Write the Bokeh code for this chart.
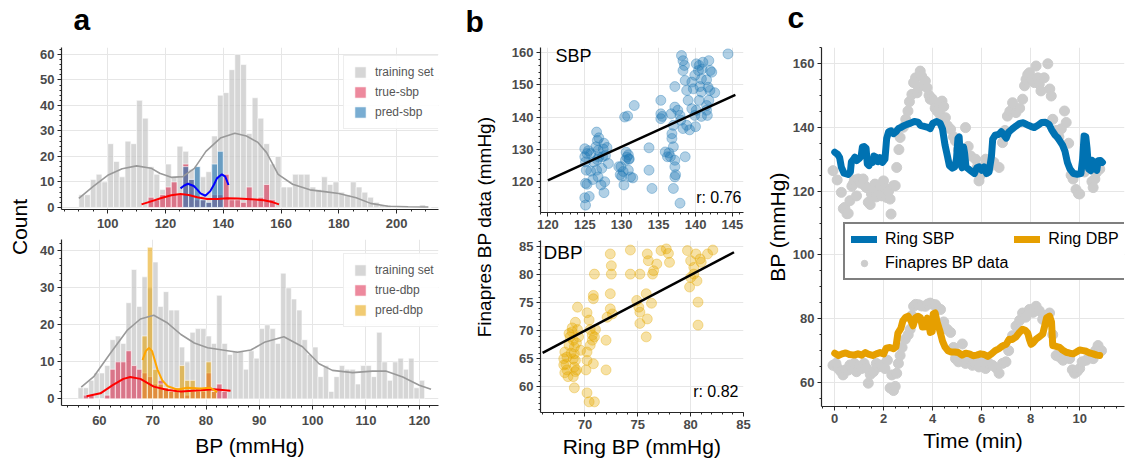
import math
from bokeh.plotting import figure
from bokeh.layouts import row, column
from bokeh.models import Range1d, SingleIntervalTicker, FixedTicker, Legend, LegendItem, Label
from bokeh.embed import file_html
from bokeh.resources import INLINE

FONT = "Liberation Sans"
TICK_GRAY = "#4a4a4a"
AXIS_DARK = "#262626"
GRID = "#e6e6e6"

# ---------------- panel a: SBP histograms ----------------
sbp_bin_w = 2
sbp_train_left = list(range(90, 212, 2))
sbp_train_counts = [5, 5, 11, 13, 10, 25, 18, 12, 26, 25,
                    42, 35, 16, 13, 7, 17, 12, 24, 22, 15,
                    16, 12, 14, 28, 44, 45, 54, 60, 56, 29,
                    43, 35, 25, 17, 20, 8, 8, 13, 13, 13,
                    8, 7, 12, 9, 10, 6, 5, 10, 8, 6,
                    4, 2, 1, 1, 0, 0, 0, 0, 0, 1, 0]
true_sbp_left = list(range(114, 158, 2))
true_sbp_counts = [4, 3, 5, 8, 10, 5, 17, 11, 3, 3, 2, 5, 5, 13, 3, 3, 2, 8, 3, 4, 9, 3]
pred_sbp_left = list(range(126, 140, 2))
pred_sbp_counts = [16, 11, 16, 3, 2, 17, 22]

sbp_train_kde_x = [90, 95, 100, 105, 110, 115, 118, 122, 126, 130, 134, 139, 144, 148, 152, 155,
                   159, 164, 170, 175, 180, 186, 191, 197, 204, 211]
sbp_train_kde_y = [3.6, 8.3, 12.6, 15.2, 16.3, 15.4, 13.4, 11.8, 12.1, 15.3, 22, 27.2, 29.1, 28,
                   25.5, 21.5, 13, 9.1, 6.9, 6.2, 5.5, 3.8, 1.6, 0.5, 0.3, 0.2]
true_sbp_kde_x = [111.7, 115, 118.3, 122, 125.2, 128, 131, 134.4, 138, 141.3, 145, 148.2, 151, 154, 157, 159.3]
true_sbp_kde_y = [1.2, 2.4, 3.6, 4.8, 5.3, 4.9, 4.0, 3.3, 3.3, 3.6, 3.5, 3.3, 3.1, 2.8, 2.1, 1.2]
pred_sbp_kde_x = [125.2, 126.5, 127.8, 129.8, 131, 132.1, 133.8, 135.5, 136.8, 137.8, 139.5, 140.7, 141.8]
pred_sbp_kde_y = [7.5, 8.6, 9.3, 8.4, 7, 5.5, 4.6, 6.4, 9, 11.4, 13, 12.1, 8.8]

# ---------------- panel a: DBP histograms ----------------
dbp_bin_w = 1
dbp_train_left = list(range(56, 121))
dbp_train_counts = [3, 3, 5, 7, 7, 9, 16, 17, 15, 26,
                    35, 25, 33, 30, 37, 25, 29, 24, 24, 14,
                    10, 18, 19, 19, 17, 15, 28, 15, 12, 13,
                    13, 8, 13, 11, 19, 20, 19, 15, 34, 30,
                    27, 24, 16, 12, 14, 6, 9, 2, 6, 9,
                    8, 8, 4, 9, 9, 6, 18, 10, 5, 10,
                    11, 8, 11, 3, 5]
true_dbp_left = list(range(57, 84))
true_dbp_counts = [1, 1, 0, 0, 1, 8, 10, 10, 13, 9, 8, 7, 6, 4, 5, 3, 2, 3, 2, 1, 2, 2, 2, 7, 2, 4, 2]
pred_dbp_left = list(range(68, 82))
pred_dbp_counts = [17, 41, 8, 4, 3, 2, 3, 9, 5, 5, 3, 3, 10, 2]

dbp_train_kde_x = [56.6, 59, 62.1, 65.2, 67.7, 70.2, 72.8, 75.3, 77.8, 80.3, 82.8, 85.9, 88.4, 91.1,
                   94.6, 98.1, 101.2, 103.7, 107.5, 111.2, 113.7, 116.9, 120, 122.2]
dbp_train_kde_y = [3.2, 6.1, 12.4, 18.5, 21.6, 22.6, 20.5, 17.4, 15.1, 13.8, 13.3, 12.6, 13.2, 15.4,
                   16.8, 14.1, 9.5, 7.7, 7.1, 7.5, 7.5, 5.9, 3.7, 2.6]
true_dbp_kde_x = [57.6, 60.2, 62.5, 64.5, 65.8, 67.7, 70.2, 72.8, 75.3, 79, 81.5, 84.6]
true_dbp_kde_y = [0.7, 1.5, 3.7, 5.4, 5.9, 5.4, 3.3, 2.4, 2.0, 2.3, 2.6, 2.2]
pred_dbp_kde_x = [68.1, 68.7, 69.3, 69.9, 70.9, 71.8, 72.8, 74.7, 76.5, 79, 80.8, 82.1]
pred_dbp_kde_y = [10.5, 12.9, 13.8, 12.9, 7.9, 5, 3.4, 2.5, 3, 2.8, 3, 1.8]

# ---------------- panel b: scatter (ring vs Finapres) ----------------
scat_ring_sbp = [125.0, 125.0, 125.3, 125.1, 125.2, 125.1, 125.3, 125.0, 125.1, 125.6, 125.8, 125.8, 126.1,
                 126.5, 126.6, 126.7, 126.8, 126.7, 126.9, 126.6, 126.8, 127.2, 127.6, 127.4, 127.6, 127.7,
                 127.8, 128.0, 127.3, 126.9, 127.5, 128.2, 125.5, 126.2,
                 130.4, 130.8, 131.7, 129.6, 129.8, 130.0, 130.2, 130.3, 130.5, 130.7, 130.9, 131.0, 130.6,
                 131.2, 131.5, 130.9, 129.9, 131.0,
                 133.7, 133.7, 134.1,
                 135.3, 135.3, 135.3, 135.5, 135.9, 136.2, 136.6, 136.4,
                 136.7, 137.0, 136.8, 136.8, 137.0, 137.2, 137.2, 137.2, 137.0, 137.2, 137.6, 137.9, 138.0,
                 137.9, 137.3,
                 137.2, 138.1, 138.3, 138.5, 138.3, 138.6, 138.8, 139.0, 139.5, 138.3, 138.8, 138.6, 139.5,
                 139.7, 139.9, 140.1, 140.4, 139.9, 140.1, 140.5, 140.6, 140.8, 140.9, 141.0, 140.5, 140.8,
                 140.8, 141.5, 141.7, 141.8, 141.5, 141.6, 141.95, 142.6, 142.0, 144.4, 141.8, 142.2, 141.5,
                 139.2, 140.0]
scat_fin_sbp = [130.1, 127.6, 128.6, 126.0, 123.4, 119.3, 119.0, 114.8, 112.5, 115.2, 128.6, 123.1, 120.5,
                130.7, 135.3, 132.7, 129.6, 126.7, 127.5, 123.4, 121.3, 118.8, 116.4, 127.6, 131.8, 119.8,
                128.0, 130.5, 124.0, 133.5, 130.0, 125.5, 129.5, 126.0,
                140.0, 140.3, 143.6, 124.5, 122.0, 121.5, 123.0, 118.8, 126.5, 127.5, 128.2, 126.8, 129.0,
                121.3, 121.0, 123.4, 124.5, 127.0,
                130.4, 123.4, 117.7,
                145.2, 141.0, 139.5, 140.2, 129.1, 127.6, 127.6, 128.8,
                141.0, 137.4, 134.8, 133.3, 130.7, 126.5, 124.5, 121.3, 117.7, 143.1, 142.1, 140.5, 139.0,
                113.1, 122.0,
                149.5, 159.2, 157.6, 156.1, 154.5, 151.4, 148.3, 145.2, 142.6, 136.4, 137.4, 127.6, 150.9,
                148.8, 153.0, 156.6, 154.5, 140.5, 142.1, 145.2, 149.5, 151.9, 155.0, 157.1, 156.1, 147.8,
                140.2, 151.6, 149.3, 145.2, 142.1, 140.5, 148.3, 147.6, 154.5, 159.7, 157.6, 154.0, 143.6,
                136.0, 137.0]
sbp_fit_x = [120.0, 145.4]
sbp_fit_y = [120.2, 146.9]
sbp_r = "r: 0.76"

scat_ring_dbp = [68.0, 68.0, 68.1, 68.3, 68.3, 68.5, 68.6, 68.8, 68.9, 69.0, 69.0, 69.1, 69.0, 69.1, 68.9,
                 69.0, 69.1, 69.3, 68.4, 69.3, 69.4, 69.6, 68.2, 68.7, 69.2, 68.5, 68.9, 69.2, 68.1, 68.8,
                 70.2, 70.4, 70.5, 70.7, 70.2, 70.2, 70.1, 70.2, 70.4, 70.9, 70.8, 70.8, 70.9, 71.0, 70.9,
                 70.8, 70.5, 70.7,
                 72.0, 72.0, 72.4, 72.5, 72.5, 72.4, 72.4, 72.6, 72.1,
                 74.3, 74.3, 74.9, 75.1, 75.2, 75.2, 75.2, 75.8, 75.9, 75.8, 75.9, 76.0, 76.3, 76.4, 76.5,
                 76.8, 77.2, 77.7, 77.9, 78.0,
                 79.7, 80.0, 79.9, 80.0, 80.3, 80.5, 80.6, 80.7, 80.7, 80.9, 81.0, 81.6, 82.1, 80.3]
scat_fin_dbp = [65.0, 63.9, 66.2, 63.0, 65.3, 67.4, 68.9, 69.8, 68.3, 67.1, 65.9, 64.7, 63.5, 62.7, 61.8,
                59.8, 71.5, 74.2, 61.8, 70.2, 68.9, 66.5, 64.0, 66.0, 63.0, 69.5, 65.0, 67.8, 62.5, 70.5,
                73.2, 71.9, 70.2, 68.3, 66.2, 64.7, 63.0, 58.9, 57.3, 57.3, 76.3, 75.7, 80.1, 70.2, 68.9,
                64.1, 67.4, 69.2,
                63.0, 68.3, 83.7, 81.6, 80.1, 76.6, 73.9, 73.0, 72.4,
                84.4, 80.1, 75.4, 74.2, 73.3, 71.3, 80.1, 68.9, 72.1, 76.6, 83.7, 82.5, 74.9, 80.1, 80.7,
                81.9, 84.3, 84.6, 83.8, 82.2,
                84.3, 82.5, 77.8, 79.5, 81.3, 83.7, 78.9, 75.1, 71.0, 82.8, 82.2, 83.7, 84.4, 80.1]
dbp_fit_x = [66.0, 84.1]
dbp_fit_y = [66.05, 84.0]
dbp_r = "r: 0.82"

# ---------------- panel c: time series ----------------
ring_sbp_t = [0.0, 0.12, 0.2, 0.27, 0.38, 0.55, 0.64, 0.68, 0.75, 0.82, 0.9, 1.0, 1.08, 1.13, 1.2, 1.28,
              1.33, 1.4, 1.47, 1.55, 1.6, 1.7, 1.77, 1.85, 1.95, 2.05, 2.12, 2.2, 2.3, 2.4, 2.5, 2.6,
              2.7, 2.8, 2.95, 3.1, 3.25, 3.4, 3.5, 3.65, 3.8, 3.9, 4.0, 4.15, 4.3, 4.4, 4.5, 4.6, 4.68,
              4.8, 4.9, 4.97, 5.03, 5.08, 5.14, 5.2, 5.26, 5.3, 5.36, 5.45, 5.55, 5.7, 5.8, 5.9, 6.0,
              6.1, 6.2, 6.3, 6.4, 6.45, 6.55, 6.7, 6.8, 6.9, 7.0, 7.1, 7.25, 7.4, 7.55, 7.7, 7.85, 8.0,
              8.15, 8.3, 8.45, 8.6, 8.75, 8.85, 9.0, 9.1, 9.2, 9.3, 9.4, 9.5, 9.6, 9.75, 9.9, 10.05,
              10.12, 10.18, 10.25, 10.3, 10.36, 10.45, 10.5, 10.6, 10.7, 10.75, 10.85, 10.93]
ring_sbp = [132.2, 131.5, 130.5, 127.5, 125.6, 125.2, 126.0, 129.2, 129.8, 130.6, 129.6, 130.2, 131.0,
            133.8, 134.0, 133.4, 128.5, 128.0, 129.6, 129.0, 131.0, 130.6, 129.2, 130.5, 129.0, 130.0,
            136.5, 138.6, 138.9, 138.0, 138.6, 139.6, 139.9, 140.4, 140.9, 141.3, 141.8, 141.6, 140.6,
            140.3, 140.0, 139.6, 141.2, 141.8, 141.3, 139.5, 134.5, 131.0, 128.0, 127.2, 127.6, 130.0,
            136.5, 137.0, 128.5, 127.3, 133.8, 132.0, 127.5, 127.0, 126.4, 125.5, 127.3, 127.6, 126.5,
            127.6, 125.5, 126.0, 131.0, 136.3, 137.5, 137.8, 138.6, 137.6, 136.6, 138.5, 139.5, 140.4,
            141.2, 141.4, 140.8, 140.3, 139.9, 140.6, 141.5, 141.6, 140.9, 139.3, 137.5, 136.8, 135.6,
            134.4, 132.5, 129.0, 127.0, 125.5, 125.3, 125.5, 130.0, 137.3, 137.0, 133.5, 127.0, 126.4,
            129.7, 128.5, 126.5, 129.5, 129.6, 129.0]
ring_dbp_t = [0.0, 0.15, 0.3, 0.45, 0.6, 0.8, 0.95, 1.1, 1.25, 1.4, 1.55, 1.7, 1.85, 2.0, 2.1, 2.25,
              2.4, 2.5, 2.58, 2.7, 2.78, 2.9, 3.0, 3.1, 3.2, 3.3, 3.4, 3.5, 3.58, 3.7, 3.78, 3.85, 3.9,
              3.98, 4.02, 4.1, 4.18, 4.3, 4.4, 4.5, 4.62, 4.75, 4.9, 5.05, 5.2, 5.35, 5.5, 5.65, 5.8,
              5.95, 6.1, 6.25, 6.4, 6.55, 6.7, 6.85, 7.0, 7.12, 7.25, 7.4, 7.55, 7.67, 7.78, 7.88, 7.95,
              8.02, 8.1, 8.22, 8.35, 8.49, 8.58, 8.65, 8.77, 8.85, 8.9, 9.0, 9.18, 9.3, 9.45, 9.6, 9.73,
              9.85, 10.0, 10.15, 10.27, 10.4, 10.55, 10.7, 10.82]
ring_dbp = [69.2, 68.5, 69.0, 69.3, 68.8, 68.6, 69.0, 68.6, 69.4, 68.8, 68.5, 69.0, 69.4, 69.0, 70.8,
            71.0, 70.6, 71.2, 75.5, 77.0, 79.3, 80.5, 80.8, 79.5, 77.8, 80.3, 80.8, 80.3, 77.4, 77.5,
            80.2, 78.0, 75.7, 76.0, 81.5, 81.8, 79.0, 76.0, 73.0, 71.2, 70.0, 69.6, 69.6, 69.4, 68.6,
            69.2, 69.0, 68.4, 68.6, 69.0, 68.8, 68.2, 69.0, 70.0, 70.6, 71.5, 72.0, 73.6, 73.5, 74.3,
            75.8, 76.7, 76.4, 75.5, 73.5, 72.0, 72.5, 73.6, 74.3, 75.2, 78.0, 80.3, 80.8, 79.0, 71.6,
            71.4, 71.0, 70.2, 69.5, 69.2, 69.0, 69.5, 70.2, 70.0, 69.8, 69.3, 69.0, 68.6, 68.5]
fin_sbp_t = [-0.07, 0.1, 0.27, 0.35, 0.41, 0.5, 0.55, 0.62, 0.7, 0.75, 0.8, 0.89, 0.96, 1.05, 1.16, 1.22,
             1.3, 1.37, 1.45, 1.5, 1.58, 1.64, 1.7, 1.78, 1.85, 1.92, 1.99, 2.05, 2.12, 2.2, 2.26, 2.3,
             2.4, 2.47, 2.53, 2.62, 2.67, 2.8, 2.9, 2.99, 3.05, 3.15, 3.22, 3.3, 3.36, 3.42, 3.49, 3.55,
             3.63, 3.7, 3.77, 3.85, 3.9, 3.97, 4.04, 4.1, 4.18, 4.3, 4.38, 4.45, 4.52, 4.6, 4.73, 4.85,
             4.93, 5.05, 5.21, 5.34, 5.45, 5.55, 5.75, 5.82, 5.89, 5.95, 6.03, 6.16, 6.3, 6.5, 6.71,
             6.85, 6.95, 7.05, 7.15, 7.26, 7.4, 7.55, 7.67, 7.75, 7.81, 7.88, 7.95, 8.05, 8.15, 8.22,
             8.29, 8.35, 8.42, 8.55, 8.7, 8.78, 8.84, 8.9, 9.05, 9.15, 9.25, 9.38, 9.45, 9.55, 9.65,
             9.73, 9.85, 9.95, 10.0, 10.2, 10.35, 10.5, 10.55, 10.62, 10.68, 10.75, 10.82]
fin_sbp = [126.4, 123.5, 119.6, 114.5, 114.9, 112.9, 113.0, 117.0, 121.5, 122.2, 123.5, 118.5, 123.8,
           122.5, 123.8, 121.8, 121.1, 116.5, 115.8, 119.1, 120.8, 122.2, 118.2, 120.6, 121.5, 118.5,
           123.2, 121.0, 118.0, 120.0, 117.5, 112.8, 121.7, 121.7, 127.4, 133.0, 136.8, 140.0, 142.5,
           145.1, 148.0, 150.3, 154.0, 155.5, 150.8, 152.5, 157.6, 156.0, 153.4, 154.5, 152.4, 150.0,
           148.8, 149.0, 148.2, 146.0, 145.1, 144.0, 148.2, 146.5, 143.0, 140.5, 139.4, 137.0, 135.7,
           133.0, 130.5, 139.9, 134.0, 131.0, 130.0, 127.5, 123.2, 125.0, 127.4, 130.0, 127.4, 129.0,
           127.4, 135.2, 139.0, 143.5, 145.0, 147.7, 144.6, 146.0, 148.8, 153.0, 155.0, 156.5, 157.1,
           155.0, 154.0, 159.2, 155.5, 153.5, 151.4, 155.5, 159.9, 152.0, 149.8, 142.5, 139.0, 137.0,
           139.5, 145.1, 141.5, 135.0, 125.0, 123.8, 120.5, 119.2, 119.1, 126.0, 128.0, 123.0, 121.1,
           123.8, 125.8, 127.0, 126.9]
fin_dbp_t = [-0.07, 0.05, 0.14, 0.25, 0.34, 0.45, 0.55, 0.62, 0.68, 0.8, 0.89, 1.0, 1.1, 1.2, 1.3, 1.37,
             1.45, 1.58, 1.7, 1.78, 1.9, 2.05, 2.15, 2.26, 2.33, 2.4, 2.47, 2.53, 2.6, 2.67, 2.75, 2.88,
             3.0, 3.08, 3.15, 3.22, 3.3, 3.42, 3.55, 3.7, 3.8, 3.9, 4.0, 4.11, 4.2, 4.32, 4.45, 4.59,
             4.73, 4.85, 4.93, 5.05, 5.21, 5.34, 5.45, 5.62, 5.75, 5.89, 6.0, 6.16, 6.3, 6.44, 6.6,
             6.71, 6.85, 6.99, 7.1, 7.26, 7.4, 7.55, 7.67, 7.8, 7.95, 8.1, 8.22, 8.35, 8.49, 8.6, 8.77,
             8.9, 9.04, 9.18, 9.32, 9.45, 9.59, 9.7, 9.79, 9.9, 10.0, 10.1, 10.27, 10.4, 10.55, 10.65,
             10.75, 10.89]
fin_dbp = [65.4, 66.0, 64.4, 63.5, 62.4, 64.0, 63.9, 65.5, 64.9, 66.0, 63.4, 65.0, 64.4, 66.0, 64.5, 59.8,
           62.5, 63.4, 66.0, 64.9, 65.5, 64.4, 67.0, 58.3, 62.4, 57.5, 58.8, 62.9, 66.0, 68.5, 71.0, 73.6,
           75.0, 76.7, 81.0, 83.9, 84.5, 84.4, 84.0, 83.9, 84.6, 84.9, 84.5, 84.4, 83.5, 82.9, 79.0,
           76.7, 75.7, 71.0, 67.5, 66.5, 72.1, 66.0, 67.5, 65.4, 66.0, 64.9, 66.5, 64.4, 66.0, 65.4,
           64.5, 62.9, 66.0, 66.5, 70.0, 74.7, 77.7, 79.5, 81.8, 80.5, 82.9, 82.0, 83.9, 82.5, 79.8,
           81.0, 81.8, 75.0, 68.5, 68.0, 67.0, 68.5, 67.5, 64.0, 62.9, 63.5, 64.4, 66.5, 67.0, 68.0,
           67.5, 70.0, 71.6, 70.0]


def style(p, xint, xminor, yint, yminor):
    p.xaxis.ticker = SingleIntervalTicker(interval=xint, num_minor_ticks=xminor)
    p.yaxis.ticker = SingleIntervalTicker(interval=yint, num_minor_ticks=yminor)
    for ax in (p.xaxis, p.yaxis):
        ax.axis_line_color = AXIS_DARK
        ax.axis_line_width = 1.2
        ax.major_tick_line_color = AXIS_DARK
        ax.minor_tick_line_color = AXIS_DARK
        ax.major_tick_in = 0
        ax.major_tick_out = 4
        ax.minor_tick_in = 0
        ax.minor_tick_out = 2
        ax.major_label_text_font = FONT
        ax.major_label_text_font_size = "13px"
        ax.major_label_text_font_style = "bold"
        ax.major_label_text_color = TICK_GRAY
        ax.major_label_standoff = 3
        ax.axis_label_text_font = FONT
        ax.axis_label_text_font_size = "21px"
        ax.axis_label_text_font_style = "normal"
        ax.axis_label_text_color = "black"
        ax.axis_label_standoff = 3
    p.grid.grid_line_color = GRID
    p.outline_line_color = None
    p.background_fill_color = "white"


def mk(width, height, xr, yr, l, r, t, b):
    return figure(width=width, height=height, x_range=Range1d(*xr), y_range=Range1d(*yr),
                  output_backend="svg", toolbar_location=None,
                  min_border_left=l, min_border_right=r, min_border_top=t, min_border_bottom=b)


def hist(p, lefts, w, counts, color, alpha, line="white"):
    return p.quad(left=lefts, right=[x + w for x in lefts], bottom=0, top=counts,
                  fill_color=color, fill_alpha=alpha, line_color=line, line_width=0.6)


def hist_legend(p, items, loc):
    lg = Legend(items=items, location=loc, margin=0, padding=9, spacing=6,
                glyph_width=14, glyph_height=14, label_standoff=8,
                label_text_font=FONT, label_text_font_size="12px", label_text_color="#555555",
                border_line_color="#dddddd", border_line_width=1,
                background_fill_color="white", background_fill_alpha=0.9)
    p.add_layout(lg)


STRIP_H = 44
BODY_H = 461 - STRIP_H

# ---------- top strip with panel letters ----------
strip = figure(width=1126, height=STRIP_H, x_range=Range1d(0, 1), y_range=Range1d(0, 1),
               output_backend="svg", toolbar_location=None, x_axis_type=None, y_axis_type=None,
               min_border=0)
strip.outline_line_color = None
for txt, x, y in (("a", 73, 25), ("b", 465, 23), ("c", 787, 27)):
    strip.add_layout(Label(x=x, y=y, x_units="screen", y_units="screen", text=txt,
                           text_font=FONT, text_font_size="30px", text_font_style="bold",
                           text_baseline="alphabetic", text_color="black"))


# ---------- shared side labels (y-axis labels of narrow figures) ----------
def side_label(width, txt, left_border, bottom_border, size):
    p = figure(width=width, height=BODY_H, x_range=Range1d(0, 1), y_range=Range1d(0, 1),
               output_backend="svg", toolbar_location=None, x_axis_type=None,
               min_border_left=left_border, min_border_right=0, min_border_top=0,
               min_border_bottom=bottom_border)
    p.outline_line_color = None
    p.grid.visible = False
    ax = p.yaxis[0]
    ax.ticker = FixedTicker(ticks=[])
    ax.axis_line_color = None
    ax.major_tick_out = 0
    ax.minor_tick_out = 0
    ax.major_tick_in = 0
    ax.minor_tick_in = 0
    ax.major_label_standoff = 0
    ax.axis_label = txt
    ax.axis_label_standoff = 0
    ax.axis_label_text_font = FONT
    ax.axis_label_text_font_size = size
    ax.axis_label_text_font_style = "normal"
    ax.axis_label_text_color = "black"
    return p

pcount = side_label(35, "Count", 30, 55, "21px")
pfin = side_label(50, "Finapres BP data (mmHg)", 44, 43, "19px")

# ---------- panel a ----------
pa1 = mk(415, 236 - STRIP_H, (84, 214.5), (-0.8, 62.7), 26, 12, 47 - STRIP_H, 27)
style(pa1, 20, 4, 10, 5)
g1 = hist(pa1, sbp_train_left, sbp_bin_w, sbp_train_counts, "#c4c4c4", 0.7)
g2 = hist(pa1, true_sbp_left, sbp_bin_w, true_sbp_counts, "#dc143c", 0.5)
g3 = hist(pa1, pred_sbp_left, sbp_bin_w, pred_sbp_counts, "#1f77b4", 0.6)
pa1.line(sbp_train_kde_x, sbp_train_kde_y, line_color="#999999", line_width=1.6)
pa1.line(true_sbp_kde_x, true_sbp_kde_y, line_color="#ff0000", line_width=2)
pa1.line(pred_sbp_kde_x, pred_sbp_kde_y, line_color="#0000ff", line_width=2)
pa1.xaxis.major_label_standoff = 5
hist_legend(pa1, [LegendItem(label="training set", renderers=[g1]),
                  LegendItem(label="true-sbp", renderers=[g2]),
                  LegendItem(label="pred-sbp", renderers=[g3])], (282, 80))

pa2 = mk(415, 225, (52.9, 123.6), (-1.8, 43.1), 26, 12, 3, 56)
style(pa2, 10, 5, 10, 5)
h1 = hist(pa2, dbp_train_left, dbp_bin_w, dbp_train_counts, "#c4c4c4", 0.7)
h2 = hist(pa2, true_dbp_left, dbp_bin_w, true_dbp_counts, "#dc143c", 0.5)
h3 = hist(pa2, pred_dbp_left, dbp_bin_w, pred_dbp_counts, "#e6a000", 0.55)
pa2.line(dbp_train_kde_x, dbp_train_kde_y, line_color="#999999", line_width=1.6)
pa2.line(true_dbp_kde_x, true_dbp_kde_y, line_color="#ff0000", line_width=2)
pa2.line(pred_dbp_kde_x, pred_dbp_kde_y, line_color="#ffa500", line_width=2)
hist_legend(pa2, [LegendItem(label="training set", renderers=[h1]),
                  LegendItem(label="true-dbp", renderers=[h2]),
                  LegendItem(label="pred-dbp", renderers=[h3])], (282, 78))
pa2.xaxis.axis_label = "BP (mmHg)"
pa2.xaxis.major_label_standoff = 6
pa2.xaxis.axis_label_standoff = 6

# ---------- panel b ----------
pb1 = mk(260, 236 - STRIP_H, (119.0, 146.5), (110.2, 161.7), 40, 17, 47 - STRIP_H, 24)
style(pb1, 5, 5, 10, 5)
pb1.scatter(scat_ring_sbp, scat_fin_sbp, size=10, fill_color="#1f77b4", fill_alpha=0.35,
            line_color="#1f77b4", line_alpha=0.35)
pb1.line(sbp_fit_x, sbp_fit_y, line_color="black", line_width=2.5)
pb1.add_layout(Label(x=15, y=147, x_units="screen", y_units="screen", text="SBP",
                     text_font=FONT, text_font_size="18px", text_color="black"))
pb1.add_layout(Label(x=201, y=7, x_units="screen", y_units="screen", text=sbp_r, text_align="right",
                     text_font=FONT, text_font_size="16px", text_color="black"))

pb2 = mk(260, 225, (65.8, 85.0), (55.4, 86.1), 40, 17, 4, 49)
style(pb2, 5, 5, 5, 5)
pb2.scatter(scat_ring_dbp, scat_fin_dbp, size=10, fill_color="#e6a800", fill_alpha=0.35,
            line_color="#e6a800", line_alpha=0.35)
pb2.line(dbp_fit_x, dbp_fit_y, line_color="black", line_width=2.5)
pb2.add_layout(Label(x=3, y=150, x_units="screen", y_units="screen", text="DBP",
                     text_font=FONT, text_font_size="19px", text_color="black"))
pb2.add_layout(Label(x=198, y=13, x_units="screen", y_units="screen", text=dbp_r, text_align="right",
                     text_font=FONT, text_font_size="16px", text_color="black"))
pb2.xaxis.axis_label = "Ring BP (mmHg)"

# ---------- panel c ----------
pc = mk(366, BODY_H, (-0.54, 11.83), (52.5, 165.0), 61, 2, 47 - STRIP_H, 53)
style(pc, 2, 4, 20, 4)
rf = pc.scatter(fin_sbp_t, fin_sbp, size=10, fill_color="#cccccc", line_color="#cccccc")
pc.scatter(fin_dbp_t, fin_dbp, size=10, fill_color="#cccccc", line_color="#cccccc")
rs = pc.line(ring_sbp_t, ring_sbp, line_color="#0072b2", line_width=7, line_join="round", line_cap="round")
rd = pc.line(ring_dbp_t, ring_dbp, line_color="#e69f00", line_width=7, line_join="round", line_cap="round")
pc.xaxis.axis_label = "Time (min)"
pc.yaxis.axis_label = "BP (mmHg)"
pc.yaxis.axis_label_standoff = 1
lgc = Legend(items=[LegendItem(label="Ring SBP", renderers=[rs]),
                    LegendItem(label="Ring DBP", renderers=[rd]),
                    LegendItem(label="Finapres BP data", renderers=[rf])],
             location=(22, 126), orientation="horizontal", ncols=2,
             glyph_width=26, glyph_height=16, label_standoff=8,
             spacing=6, padding=6, margin=0,
             label_text_font=FONT, label_text_font_size="16px", label_text_color="black",
             border_line_color="black", border_line_width=2, background_fill_color="white",
             background_fill_alpha=1.0)
pc.add_layout(lgc)

layout = column(strip, row(pcount, column(pa1, pa2), pfin, column(pb1, pb2), pc))
open("out.html", "w").write(file_html(layout, INLINE))
